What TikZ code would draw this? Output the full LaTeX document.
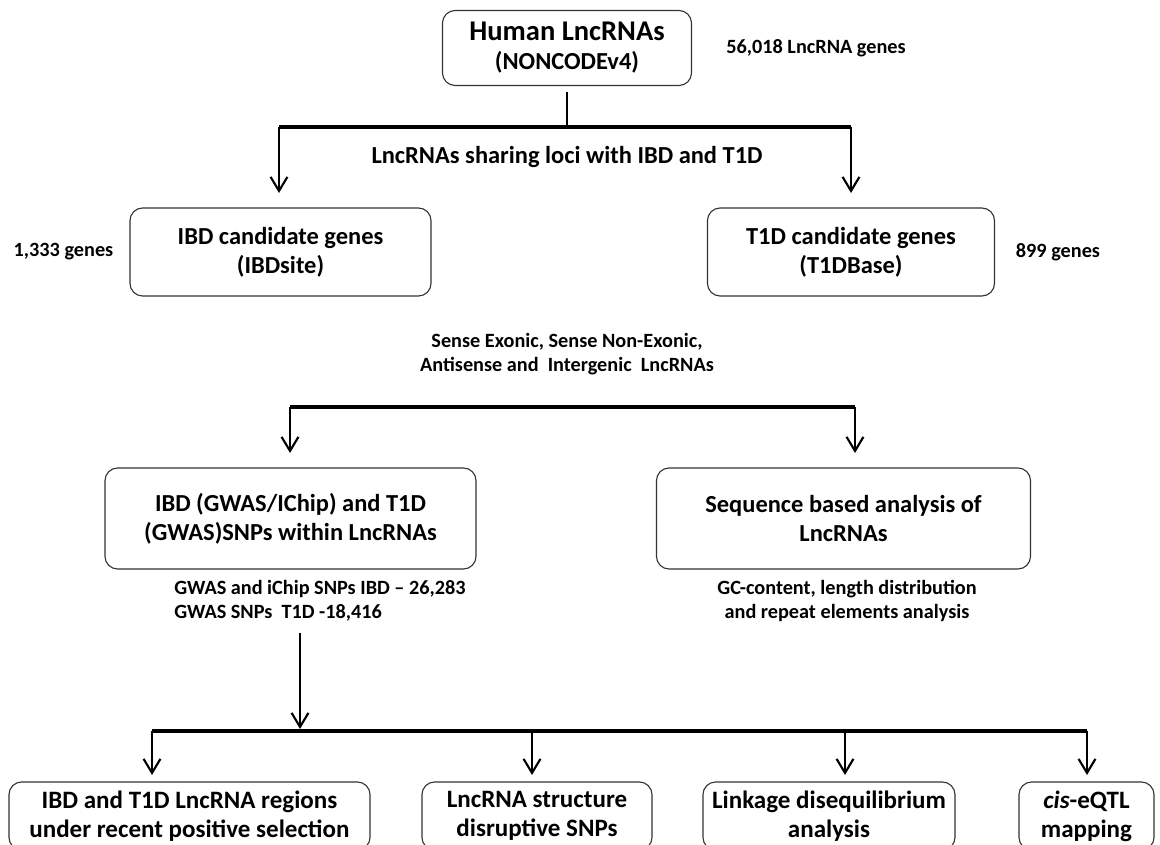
\documentclass[tikz,border=0pt]{standalone}
\usepackage{fontspec}
\setmainfont{Carlito}
\usepackage{tikz}
\usetikzlibrary{arrows.meta,positioning}

\tikzset{
  stage/.style={draw=black!80, line width=0.8pt, rounded corners=9pt, align=center,
    inner sep=0pt, font=\fontsize{17.4}{20.5}\selectfont\bfseries},
  leaf/.style={stage, minimum height=1.7cm, font=\fontsize{17.8}{20.8}\selectfont\bfseries},
  note/.style={inner sep=0pt, align=center, font=\fontsize{14.4}{17}\selectfont\bfseries},
  stem/.style={line width=1.5pt},
  bar/.style={line width=2.3pt},
  drop/.style={line width=1.5pt, -{Straight Barb[length=10pt,width=12pt,line width=1.5pt]}}
}

\begin{document}
\begin{tikzpicture}[x=0.025cm, y=-0.025cm]
  \useasboundingbox (0,0) rectangle (1160,845);
  \clip (0,0) rectangle (1160,845);
  \begin{scope}
    % top level
    \node[stage, minimum width=6.225cm, minimum height=1.875cm] (human) at (567,48)
      {{\fontsize{20.3}{20.5}\selectfont Human LncRNAs}\\(NONCODEv4)};
    \node[note] (nhuman) at (816,48) {56,018 LncRNA genes};
    \coordinate (j0) at (567,127);
    \coordinate (j0l) at (279,127);
    \coordinate (j0r) at (851,127);
    \coordinate (t0l) at (279,193);
    \coordinate (t0r) at (851,193);
    \draw[stem, shorten <=4pt] (human) -- (j0);
    \draw[bar] (j0l) -- (j0r);
    \draw[drop] (j0l) -- (t0l);
    \draw[drop] (j0r) -- (t0r);
    \node[note, font=\fontsize{17.4}{20}\selectfont\bfseries] (share) at (567,157)
      {LncRNAs sharing loci with IBD and T1D};

    % candidate genes
    \node[stage, minimum width=7.525cm, minimum height=2.2cm] (ibd) at (280.5,252)
      {IBD candidate genes\\(IBDsite)};
    \node[stage, minimum width=7.175cm, minimum height=2.2cm] (t1d) at (851,252)
      {T1D candidate genes\\(T1DBase)};
    \node[note] (nibd) at (63.5,252) {1,333 genes};
    \node[note] (nt1d) at (1058,252) {899 genes};
    \node[note] (classes) at (567,354)
      {Sense Exonic, Sense Non-Exonic,\\Antisense and\ \ Intergenic\ \ LncRNAs};

    % second split
    \coordinate (j1l) at (290,407);
    \coordinate (j1r) at (855,407);
    \coordinate (t1l) at (290,453);
    \coordinate (t1r) at (855,453);
    \draw[bar] (j1l) -- (j1r);
    \draw[drop] (j1l) -- (t1l);
    \draw[drop] (j1r) -- (t1r);
    \node[stage, minimum width=9.275cm, minimum height=2.525cm] (snps) at (290.5,518.5)
      {IBD (GWAS/IChip) and T1D\\(GWAS)SNPs within LncRNAs};
    \node[stage, minimum width=9.35cm, minimum height=2.525cm] (seq) at (843.5,518.5)
      {Sequence based analysis of\\LncRNAs};
    \node[note, align=left, anchor=west] (nsnps) at (174,601)
      {GWAS and iChip SNPs IBD -- 26,283\\GWAS SNPs\ \ T1D -18,416};
    \node[note] (nseq) at (847,601)
      {GC-content, length distribution\\and repeat elements analysis};

    % downstream analyses
    \coordinate (s2) at (300,633);
    \coordinate (j2) at (300,729);
    \draw[drop] (s2) -- (j2);
    \coordinate (j2a) at (152,731);
    \coordinate (j2b) at (532,731);
    \coordinate (j2c) at (845,731);
    \coordinate (j2d) at (1087,731);
    \draw[bar] (j2a) -- (j2d);
    \foreach \j in {j2a,j2b,j2c,j2d}
      \draw[drop] (\j) -- ++(0,44);
    \node[leaf, minimum width=9.025cm] (sel) at (189.5,816)
      {IBD and T1D LncRNA regions\\under recent positive selection};
    \node[leaf, minimum width=5.75cm] (struct) at (537,816)
      {LncRNA structure\\disruptive SNPs};
    \node[leaf, minimum width=6.3cm] (ld) at (829,816)
      {Linkage disequilibrium\\analysis};
    \node[leaf, minimum width=3.375cm] (eqtl) at (1086.5,816)
      {\textit{cis}-eQTL\\mapping};
  \end{scope}
\end{tikzpicture}
\end{document}
